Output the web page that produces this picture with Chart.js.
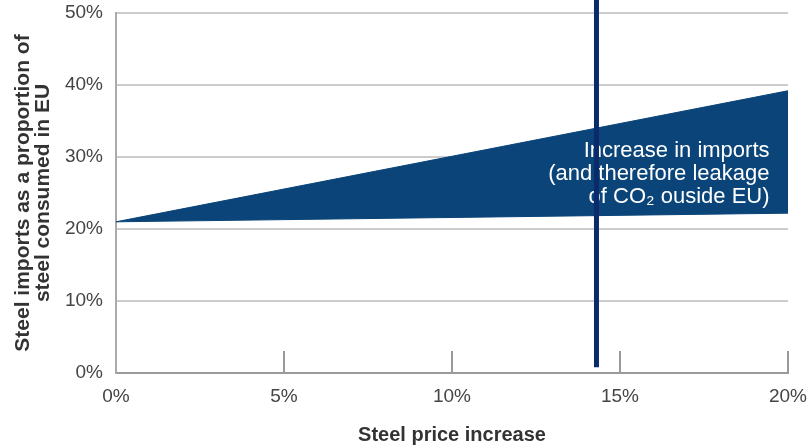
<!DOCTYPE html>
<html>
<head>
<meta charset="utf-8">
<script src="https://cdn.jsdelivr.net/npm/chart.js@4"></script>
<style>
  body { margin: 0; background: #fff; }
  #wrap { width: 808px; height: 447px; }
</style>
</head>
<body>
<div id="wrap"><canvas id="leakage" width="808" height="447"></canvas></div>
<script>
// steel price increase (%) at the two ends of the range
const priceIncrease = [0, 20];
// imports as share of EU consumption (%)
const importsUpper = [21, 39.2];
const importsLower = [21, 22.2];
// vertical marker (price increase %, from/to share %)
const markerX = 14.3;
const markerY = [0.8, 51.8];
const xTickLabels = ["0%", "5%", "10%", "15%", "20%"];
const yTickLabels = ["0%", "10%", "20%", "30%", "40%", "50%"];
const noteLines = ["Increase in imports", "(and therefore leakage", "of CO\u2082 ouside EU)"];
const noteAt = { x: 19.45, y: [30.9, 27.6, 24.4] };

const navy = "#0a4478";
const dark = "#0a2a6b";
const FONT = "'Liberation Sans', Arial, sans-serif";

const pts = (xs, ys) => xs.map((x, i) => ({ x: x, y: ys[i] }));

// text over the area, under the marker line
const notePlugin = {
  id: "note",
  afterDatasetDraw(chart, args) {
    if (args.index !== 1) return;
    const ctx = chart.ctx, xs = chart.scales.x, ys = chart.scales.y;
    ctx.save();
    ctx.fillStyle = "#fff";
    ctx.font = "22px " + FONT;
    ctx.textAlign = "right";
    ctx.textBaseline = "middle";
    noteLines.forEach((t, i) => {
      ctx.fillText(t, xs.getPixelForValue(noteAt.x), ys.getPixelForValue(noteAt.y[i]));
    });
    ctx.restore();
  }
};

// short tick marks pointing up from the x axis
const tickMarks = {
  id: "tickMarks",
  beforeDatasetsDraw(chart) {
    const ctx = chart.ctx, xs = chart.scales.x, b = chart.chartArea.bottom;
    ctx.save();
    ctx.strokeStyle = "#9a9a9a";
    ctx.lineWidth = 2;
    xs.ticks.forEach(t => {
      if (t.value === 0) return;
      const px = Math.round(xs.getPixelForValue(t.value));
      ctx.beginPath();
      ctx.moveTo(px, b);
      ctx.lineTo(px, b - 22);
      ctx.stroke();
    });
    ctx.restore();
  }
};

new Chart(document.getElementById("leakage"), {
  type: "line",
  data: {
    datasets: [
      {
        data: pts([markerX, markerX], markerY),
        borderColor: dark,
        borderWidth: 5,
        pointRadius: 0,
        clip: false,
        fill: false
      },
      {
        data: pts(priceIncrease, importsUpper),
        borderColor: navy,
        borderWidth: 1,
        backgroundColor: navy,
        pointRadius: 0,
        fill: "+1"
      },
      {
        data: pts(priceIncrease, importsLower),
        borderColor: navy,
        borderWidth: 1,
        pointRadius: 0,
        fill: false
      }
    ]
  },
  options: {
    responsive: false,
    animation: false,
    layout: { padding: { top: 13, right: 20, left: 0, bottom: 0 } },
    plugins: { legend: { display: false }, tooltip: { enabled: false } },
    scales: {
      x: {
        type: "linear",
        min: 0,
        max: 20,
        ticks: {
          stepSize: 5,
          padding: 12,
          color: "#444",
          font: { family: FONT, size: 19 },
          callback: (v, i) => xTickLabels[i]
        },
        grid: { display: false, drawTicks: false },
        border: { color: "#9a9a9a", width: 2 },
        title: {
          display: true,
          text: "Steel price increase",
          color: "#333",
          font: { family: FONT, size: 20, weight: "bold" },
          padding: { top: 0, bottom: 0 }
        },
        afterFit: s => { s.height = 74; s.paddingLeft = 0; s.paddingRight = 0; }
      },
      y: {
        min: 0,
        max: 50,
        ticks: {
          stepSize: 10,
          padding: 13,
          color: "#444",
          font: { family: FONT, size: 19 },
          callback: (v, i) => yTickLabels[i]
        },
        grid: { color: "#cccccc", lineWidth: 2, drawTicks: false },
        border: { color: "#aaaaaa", width: 2 },
        title: {
          display: true,
          text: ["Steel imports as a proportion of", "steel consumed in EU"],
          color: "#333",
          font: { family: FONT, size: 21, weight: "bold", lineHeight: 0.95 },
          padding: { top: 13, bottom: 0 }
        },
        afterFit: s => { s.width = 116; s.paddingTop = 0; s.paddingBottom = 0; }
      }
    }
  },
  plugins: [notePlugin, tickMarks]
});
</script>
</body>
</html>
